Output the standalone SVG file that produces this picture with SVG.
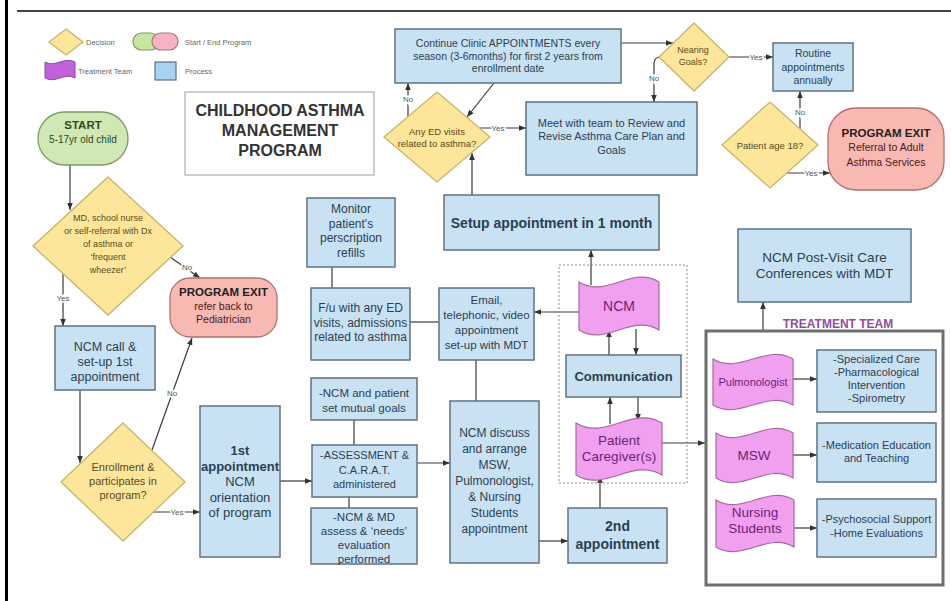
<svg xmlns="http://www.w3.org/2000/svg" width="951" height="601" viewBox="0 0 951 601">
<style>
text{font-family:'Liberation Sans',Arial,sans-serif;text-anchor:middle}
.proc{fill:#c8e2f4;stroke:#5f7282;stroke-width:1.5}
.dec{fill:#fde699;stroke:#c8b46e;stroke-width:1.3}
.start{fill:#cfe8b4;stroke:#7d9b67;stroke-width:1.3}
.exit{fill:#f9b9b3;stroke:#b07070;stroke-width:1.3}
.team{fill:#f0a0ee;stroke:#a36aa3;stroke-width:1.2}
.tp{fill:#2c3e50}
.td{fill:#5a4a1a}
.tt{fill:#6b1f7b}
.te{fill:#4a1a1a}
.b{font-weight:bold}
.lg{font-size:7.5px;fill:#666;text-anchor:start}
.lbl{font-size:8px;fill:#555;stroke:#fff;stroke-width:3;paint-order:stroke}
#connectors line,#connectors path{stroke:#3a3a3a;stroke-width:1.2;fill:none}
.ar{marker-end:url(#ah)}
</style>
<defs>
<marker id="ah" viewBox="0 0 10 10" refX="10" refY="5" markerWidth="7" markerHeight="7" markerUnits="userSpaceOnUse" orient="auto"><path d="M0,1 L10,5 L0,9 z" fill="#333"/></marker>
</defs>
<rect x="0" y="0" width="951" height="601" fill="#fff"/>
<rect x="5" y="0" width="3" height="601" fill="#000"/>
<line x1="17" y1="11" x2="951" y2="11" stroke="#444" stroke-width="2"/>

<g id="legend">
<polygon class="dec" points="66,29 83,42 66,55 49,42"/>
<text class="lg" x="86" y="45">Decision</text>
<rect x="133" y="33" width="26" height="17" rx="8.5" fill="#c6e6a2" stroke="#7d9b67" stroke-width="1.2"/>
<rect x="152" y="33" width="26" height="17" rx="8.5" fill="#f5b3c3" stroke="#b07080" stroke-width="1.2"/>
<text class="lg" x="185" y="45">Start / End Program</text>
<path d="M45,62 C55,68 65,56 75,62 L75,78 C65,72 55,84 45,78 Z" fill="#bf62dc" stroke="#8a4aa0" stroke-width="1"/>
<text class="lg" x="78" y="74">Treatment Team</text>
<rect x="155" y="62" width="21" height="18" fill="#a9d2f2" stroke="#5f7282" stroke-width="1.2"/>
<text class="lg" x="185" y="74">Process</text>
</g>

<g id="title">
<rect x="185" y="92" width="189" height="83" fill="#fff" stroke="#b9a6b9" stroke-width="1.2"/>
<text class="b" x="280" y="116" font-size="16" fill="#333">CHILDHOOD ASTHMA</text>
<text class="b" x="280" y="136" font-size="16" fill="#333">MANAGEMENT</text>
<text class="b" x="280" y="156" font-size="16" fill="#333">PROGRAM</text>
</g>

<g id="connectors">
<line class="ar" x1="70" y1="165" x2="70" y2="210"/>
<line class="ar" x1="170" y1="257" x2="200" y2="278"/>
<line class="ar" x1="63" y1="274" x2="63" y2="326"/>
<line class="ar" x1="80" y1="390" x2="80" y2="463"/>
<line class="ar" x1="152" y1="450" x2="192" y2="338"/>
<line class="ar" x1="153" y1="512" x2="200" y2="512"/>
<line class="ar" x1="280" y1="481" x2="312" y2="481"/>
<line x1="354" y1="420" x2="354" y2="445"/>
<line x1="349" y1="497" x2="349" y2="508"/>
<line class="ar" x1="417" y1="463" x2="450" y2="463"/>
<line class="ar" x1="539" y1="541" x2="568" y2="541"/>
<line class="ar" x1="600" y1="508" x2="600" y2="476"/>
<line class="ar" x1="610" y1="424" x2="610" y2="397"/>
<line class="ar" x1="638" y1="397" x2="638" y2="421"/>
<line class="ar" x1="609" y1="355" x2="609" y2="330"/>
<line class="ar" x1="636" y1="329" x2="636" y2="355"/>
<line class="ar" x1="591" y1="285" x2="591" y2="250"/>
<line class="ar" x1="579" y1="312" x2="534" y2="312"/>
<line x1="410" y1="322" x2="439" y2="322"/>
<line x1="332" y1="267" x2="332" y2="288"/>
<line x1="476" y1="360" x2="476" y2="401"/>
<line class="ar" x1="472" y1="195" x2="472" y2="153"/>
<line class="ar" x1="408" y1="117" x2="408" y2="83"/>
<line class="ar" x1="494" y1="83" x2="467" y2="117"/>
<line class="ar" x1="480" y1="128" x2="526" y2="128"/>
<line class="ar" x1="621" y1="43" x2="673" y2="43"/>
<path class="ar" d="M659,57 Q654,58 654,64 L654,102"/>
<line class="ar" x1="729" y1="57" x2="773" y2="57"/>
<line class="ar" x1="800" y1="130" x2="800" y2="91"/>
<line class="ar" x1="787" y1="173" x2="830" y2="173"/>
<line class="ar" x1="763" y1="331" x2="763" y2="302"/>
<line class="ar" x1="662" y1="443" x2="705" y2="443"/>
<line class="ar" x1="793" y1="379" x2="817" y2="379"/>
<line class="ar" x1="793" y1="455" x2="817" y2="455"/>
<line class="ar" x1="794" y1="528" x2="817" y2="528"/>
<text class="lbl" x="187" y="270">No</text>
<text class="lbl" x="63" y="301">Yes</text>
<text class="lbl" x="172" y="396">No</text>
<text class="lbl" x="177" y="515">Yes</text>
<text class="lbl" x="408" y="102">No</text>
<text class="lbl" x="498" y="131">Yes</text>
<text class="lbl" x="654" y="81">No</text>
<text class="lbl" x="756" y="60">Yes</text>
<text class="lbl" x="800" y="115">No</text>
<text class="lbl" x="811" y="176">Yes</text>
</g>

<g id="start">
<rect class="start" x="38" y="112" width="90" height="53" rx="26.5"/>
<text class="b" x="83" y="129" font-size="11.5" fill="#2e4a1e">START</text>
<text x="83" y="143" font-size="10" fill="#2e4a1e">5-17yr old  child</text>
</g>

<g id="referral">
<polygon class="dec" points="108,177 183,246 108,315 33,246"/>
<text class="td" x="108" y="221" font-size="9">MD, school nurse</text>
<text class="td" x="108" y="234" font-size="9">or self-referral with Dx</text>
<text class="td" x="108" y="247" font-size="9">of asthma or</text>
<text class="td" x="108" y="260" font-size="9">‘frequent</text>
<text class="td" x="108" y="273" font-size="9">wheezer’</text>
</g>

<g id="exit-ped">
<rect class="exit" x="170" y="278" width="107" height="59" rx="20"/>
<text class="b" x="223.5" y="296" font-size="11.5" fill="#222">PROGRAM EXIT</text>
<text class="te" x="223.5" y="310" font-size="10.5">refer back to</text>
<text class="te" x="223.5" y="323" font-size="10.5">Pediatrician</text>
</g>

<g id="ncm-call">
<rect class="proc" x="55" y="326" width="100" height="64"/>
<text class="tp" x="105" y="351" font-size="12.5">NCM call &amp;</text>
<text class="tp" x="105" y="366" font-size="12.5">set-up 1st</text>
<text class="tp" x="105" y="381" font-size="12.5">appointment</text>
</g>

<g id="enrollment">
<polygon class="dec" points="123,423 185,482 123,541 61,482"/>
<text class="td" x="123" y="471" font-size="11">Enrollment &amp;</text>
<text class="td" x="123" y="485" font-size="11">participates in</text>
<text class="td" x="123" y="499" font-size="11">program?</text>
</g>

<g id="first-appt">
<rect class="proc" x="200" y="406" width="80" height="151"/>
<text class="tp b" x="240" y="455" font-size="13">1st</text>
<text class="tp b" x="240" y="470.5" font-size="13">appointment</text>
<text class="tp" x="240" y="486" font-size="13">NCM</text>
<text class="tp" x="240" y="501.5" font-size="13">orientation</text>
<text class="tp" x="240" y="517" font-size="13">of program</text>
</g>

<g id="goals">
<rect class="proc" x="311" y="378" width="106" height="42"/>
<text class="tp" x="364" y="397" font-size="11.5">-NCM and patient</text>
<text class="tp" x="364" y="412" font-size="11.5">set mutual goals</text>
</g>

<g id="assessment">
<rect class="proc" x="312" y="445" width="105" height="52"/>
<text class="tp" x="364.5" y="459" font-size="11">-ASSESSMENT &amp;</text>
<text class="tp" x="364.5" y="474" font-size="11">C.A.R.A.T.</text>
<text class="tp" x="364.5" y="488" font-size="11">administered</text>
</g>

<g id="needs">
<rect class="proc" x="311" y="508" width="106" height="56"/>
<text class="tp" x="364" y="521" font-size="11.5">-NCM &amp; MD</text>
<text class="tp" x="364" y="535" font-size="11.5">assess &amp; ‘needs’</text>
<text class="tp" x="364" y="549" font-size="11.5">evaluation</text>
<text class="tp" x="364" y="563" font-size="11.5">performed</text>
</g>

<g id="ncm-discuss">
<rect class="proc" x="450" y="401" width="89" height="162"/>
<text class="tp" x="494.5" y="437" font-size="12">NCM discuss</text>
<text class="tp" x="494.5" y="453" font-size="12">and arrange</text>
<text class="tp" x="494.5" y="469" font-size="12">MSW,</text>
<text class="tp" x="494.5" y="485" font-size="12">Pulmonologist,</text>
<text class="tp" x="494.5" y="501" font-size="12">&amp; Nursing</text>
<text class="tp" x="494.5" y="517" font-size="12">Students</text>
<text class="tp" x="494.5" y="533" font-size="12">appointment</text>
</g>

<g id="second-appt">
<rect class="proc" x="568" y="508" width="99" height="55"/>
<text class="tp b" x="617.5" y="531" font-size="14">2nd</text>
<text class="tp b" x="617.5" y="549" font-size="14">appointment</text>
</g>

<rect x="559" y="265" width="128" height="218" fill="none" stroke="#888" stroke-width="1" stroke-dasharray="2 2"/>

<g id="caregiver">
<path class="team" d="M576,423 C605,441 633,405 662,423 L662,475 C633,457 605,493 576,475 Z"/>
<text class="tt" x="619" y="445" font-size="13.5">Patient</text>
<text class="tt" x="619" y="461" font-size="13.5">Caregiver(s)</text>
</g>

<g id="communication">
<rect class="proc" x="566" y="355" width="115" height="42"/>
<text class="tp b" x="623.5" y="380.5" font-size="13">Communication</text>
</g>

<g id="ncm">
<path class="team" d="M579,282 C606,299 632,265 659,282 L659,330 C632,313 606,347 579,330 Z"/>
<text class="tt" x="619" y="311" font-size="14">NCM</text>
</g>

<g id="setup">
<rect class="proc" x="444" y="195" width="215" height="55"/>
<text class="tp b" x="551.5" y="227.5" font-size="14">Setup appointment in 1 month</text>
</g>

<g id="monitor">
<rect class="proc" x="307" y="198" width="88" height="69"/>
<text class="tp" x="351" y="213" font-size="12">Monitor</text>
<text class="tp" x="351" y="228" font-size="12">patient's</text>
<text class="tp" x="351" y="242" font-size="12">perscription</text>
<text class="tp" x="351" y="257" font-size="12">refills</text>
</g>

<g id="followup">
<rect class="proc" x="311" y="288" width="99" height="72"/>
<text class="tp" x="360.5" y="312" font-size="12">F/u  with any ED</text>
<text class="tp" x="360.5" y="327" font-size="12">visits, admissions</text>
<text class="tp" x="360.5" y="341" font-size="12">related to asthma</text>
</g>

<g id="email">
<rect class="proc" x="439" y="288" width="95" height="72"/>
<text class="tp" x="486.5" y="304" font-size="11.5">Email,</text>
<text class="tp" x="486.5" y="319" font-size="11.5">telephonic, video</text>
<text class="tp" x="486.5" y="334" font-size="11.5">appointment</text>
<text class="tp" x="486.5" y="349" font-size="11.5">set-up with MDT</text>
</g>

<g id="continue">
<rect class="proc" x="395" y="29" width="226" height="54"/>
<text class="tp" x="508" y="47" font-size="10.5">Continue Clinic APPOINTMENTS every</text>
<text class="tp" x="508" y="59.5" font-size="10.5">season (3-6months) for first 2 years from</text>
<text class="tp" x="508" y="72" font-size="10.5">enrollment date</text>
</g>

<g id="any-ed">
<polygon class="dec" points="437,92 490,137 437,182 384,137"/>
<text class="td" x="437" y="134.5" font-size="9.5">Any ED visits</text>
<text class="td" x="437" y="146.5" font-size="9.5">related to asthma?</text>
</g>

<g id="meet">
<rect class="proc" x="526" y="102" width="171" height="73"/>
<text class="tp" x="611.5" y="127" font-size="11">Meet with team to Review and</text>
<text class="tp" x="611.5" y="140" font-size="11">Revise Asthma Care Plan and</text>
<text class="tp" x="611.5" y="154" font-size="11">Goals</text>
</g>

<g id="nearing">
<polygon class="dec" points="694,23 729,57 694,91 659,57"/>
<text class="td" x="693" y="53" font-size="9">Nearing</text>
<text class="td" x="693" y="65" font-size="9">Goals?</text>
</g>

<g id="routine">
<rect class="proc" x="773" y="43" width="80" height="48"/>
<text class="tp" x="813" y="57" font-size="10.5">Routine</text>
<text class="tp" x="813" y="71" font-size="10.5">appointments</text>
<text class="tp" x="813" y="84" font-size="10.5">annually</text>
</g>

<g id="age">
<polygon class="dec" points="770,102 818,145 770,188 722,145"/>
<text class="td" x="770" y="148.5" font-size="9.5">Patient age 18?</text>
</g>

<g id="exit-adult">
<rect class="exit" x="828" y="108" width="116" height="82" rx="28"/>
<text class="b" x="886" y="137" font-size="11.5" fill="#222">PROGRAM EXIT</text>
<text class="te" x="886" y="151" font-size="10.5">Referral to Adult</text>
<text class="te" x="886" y="166" font-size="10.5">Asthma Services</text>
</g>

<g id="post-visit">
<rect class="proc" x="738" y="229" width="173" height="73"/>
<text class="tp" x="824.5" y="262" font-size="13.5">NCM Post-Visit Care</text>
<text class="tp" x="824.5" y="278" font-size="13.5">Conferences with MDT</text>
</g>

<g id="treatment-team">
<text class="b" x="838" y="328" font-size="12" fill="#8e4f9a">TREATMENT TEAM</text>
<rect x="706" y="331" width="237" height="254" fill="none" stroke="#6f6f6f" stroke-width="3"/>
</g>

<g id="pulmonologist">
<path class="team" d="M713,359 C740,375 766,343 793,359 L793,405 C766,389 740,421 713,405 Z"/>
<text class="tt" x="753" y="386" font-size="11">Pulmonologist</text>
</g>
<g id="pulm-tasks">
<rect class="proc" x="817" y="350" width="119" height="62"/>
<text class="tp" x="876.5" y="363" font-size="11">-Specialized Care</text>
<text class="tp" x="876.5" y="376" font-size="11">-Pharmacological</text>
<text class="tp" x="876.5" y="389" font-size="11">Intervention</text>
<text class="tp" x="876.5" y="402" font-size="11">-Spirometry</text>
</g>

<g id="msw">
<path class="team" d="M716,433 C742,449 767,417 793,433 L793,478 C767,462 742,494 716,478 Z"/>
<text class="tt" x="754" y="460" font-size="13.5">MSW</text>
</g>
<g id="msw-tasks">
<rect class="proc" x="817" y="423" width="119" height="59"/>
<text class="tp" x="876.5" y="449" font-size="11">-Medication Education</text>
<text class="tp" x="876.5" y="462" font-size="11">and Teaching</text>
</g>

<g id="nursing">
<path class="team" d="M716,500 C742,516 768,484 794,500 L794,547 C768,531 742,563 716,547 Z"/>
<text class="tt" x="755" y="517" font-size="13.5">Nursing</text>
<text class="tt" x="755" y="533" font-size="13.5">Students</text>
</g>
<g id="nursing-tasks">
<rect class="proc" x="817" y="499" width="119" height="58"/>
<text class="tp" x="876.5" y="523" font-size="11">-Psychosocial Support</text>
<text class="tp" x="876.5" y="537" font-size="11">-Home Evaluations</text>
</g>
</svg>
